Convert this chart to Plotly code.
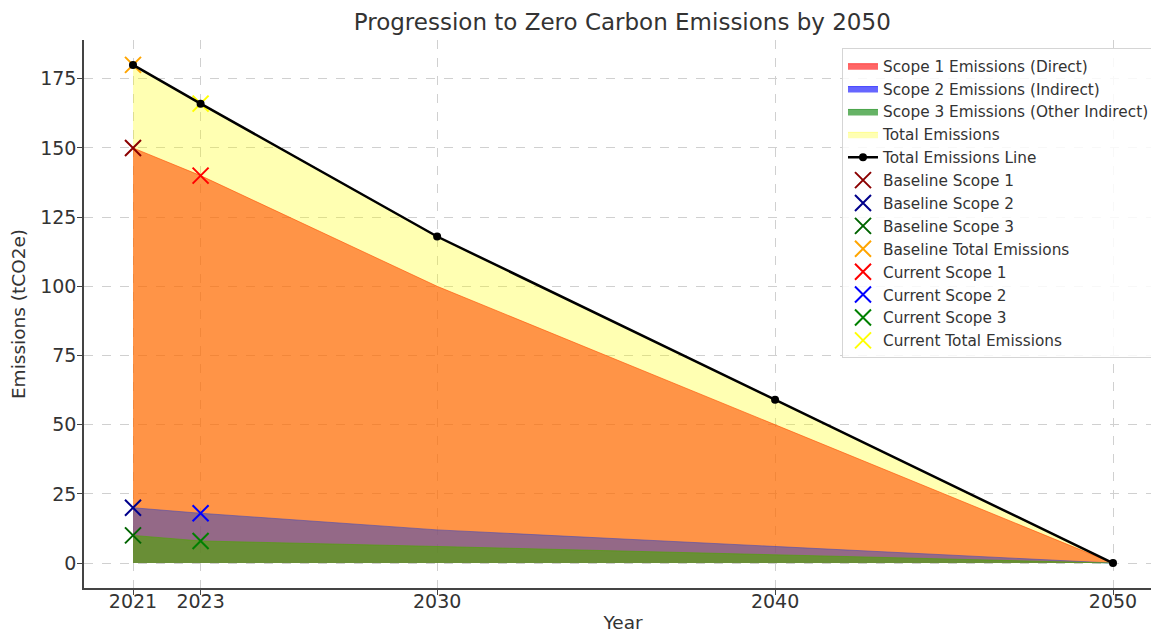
import plotly.graph_objects as go

years = [2021, 2023, 2030, 2040, 2050]
scope1 = [150, 140, 100, 50, 0]
scope2 = [20, 18, 12, 6, 0]
scope3 = [10, 8, 6, 3, 0]
total = [a + b + c for a, b, c in zip(scope1, scope2, scope3)]

baseline_year = 2021
current_year = 2023
baseline = {"Scope 1": 150, "Scope 2": 20, "Scope 3": 10, "Total Emissions": 180}
current = {"Scope 1": 140, "Scope 2": 18, "Scope 3": 8, "Total Emissions": 166}

x_ticks = [2021, 2023, 2030, 2040, 2050]
y_ticks = [0, 25, 50, 75, 100, 125, 150, 175]

font = "DejaVu Sans"
fig = go.Figure()

fills = [
    ("Scope 1 Emissions (Direct)", scope1, "rgba(255,0,0,0.6)"),
    ("Scope 2 Emissions (Indirect)", scope2, "rgba(0,0,255,0.6)"),
    ("Scope 3 Emissions (Other Indirect)", scope3, "rgba(0,128,0,0.6)"),
    ("Total Emissions", total, "rgba(255,255,0,0.3)"),
]
rank = 1
for name, vals, col in fills:
    fig.add_trace(go.Scatter(
        x=years, y=vals, name=name, mode="lines", fill="tozeroy",
        fillcolor=col, line=dict(color=col, width=1), legendrank=rank,
    ))
    rank += 1

marker_specs = [
    ("Baseline Scope 1", baseline_year, baseline["Scope 1"], "darkred"),
    ("Baseline Scope 2", baseline_year, baseline["Scope 2"], "darkblue"),
    ("Baseline Scope 3", baseline_year, baseline["Scope 3"], "darkgreen"),
    ("Baseline Total Emissions", baseline_year, baseline["Total Emissions"], "orange"),
    ("Current Scope 1", current_year, current["Scope 1"], "red"),
    ("Current Scope 2", current_year, current["Scope 2"], "blue"),
    ("Current Scope 3", current_year, current["Scope 3"], "green"),
    ("Current Total Emissions", current_year, current["Total Emissions"], "yellow"),
]
mrank = 6
for name, xv, yv, col in marker_specs:
    fig.add_trace(go.Scatter(
        x=[xv], y=[yv], name=name, mode="markers",
        marker=dict(symbol="x-thin", size=16, line=dict(color=col, width=2), color=col),
        legendrank=mrank,
    ))
    mrank += 1

fig.add_trace(go.Scatter(
    x=years, y=total, name="Total Emissions Line", mode="lines+markers",
    line=dict(color="black", width=2.5), marker=dict(color="black", size=8),
    legendrank=5,
))

fig.update_layout(
    width=1159, height=632,
    margin=dict(l=76, r=5, t=32, b=52),
    paper_bgcolor="white", plot_bgcolor="white",
    font=dict(family=font, size=16, color="#333333"),
    title=dict(text="Progression to Zero Carbon Emissions by 2050", x=0.53, xanchor="center",
               y=0.978, yanchor="middle", font=dict(size=23, color="#333333")),
    legend=dict(x=0.9935, y=0.985, xanchor="right", yanchor="top",
                bgcolor="rgba(255,255,255,0.85)", bordercolor="#d5d5d5", borderwidth=1,
                font=dict(size=15.3, color="#333333"), tracegroupgap=0),
    showlegend=True,
)
fig.update_xaxes(
    range=[2019.55, 2051.45], tickmode="array", tickvals=x_ticks,
    showgrid=True, gridcolor="#d0d0d0", griddash="dash", gridwidth=1,
    showline=True, linecolor="#444444", linewidth=1.5,
    ticks="outside", ticklen=5, tickcolor="#444444",
    tickfont=dict(size=19, color="#333333"), zeroline=False, automargin=False,
    ticklabelstandoff=-10,
    title=dict(text="Year", font=dict(size=18.5, color="#333333"), standoff=6),
)
fig.update_yaxes(
    range=[-9, 189], tickmode="array", tickvals=y_ticks,
    showgrid=True, gridcolor="#d0d0d0", griddash="dash", gridwidth=1,
    showline=True, linecolor="#444444", linewidth=1.5,
    ticks="outside", ticklen=5, tickcolor="#444444",
    tickfont=dict(size=19, color="#333333"), zeroline=False, automargin=False,
    ticklabelstandoff=-3,
    title=dict(text="Emissions (tCO2e)", font=dict(size=18.5, color="#333333"), standoff=10),
)

fig.write_html("out.html")
